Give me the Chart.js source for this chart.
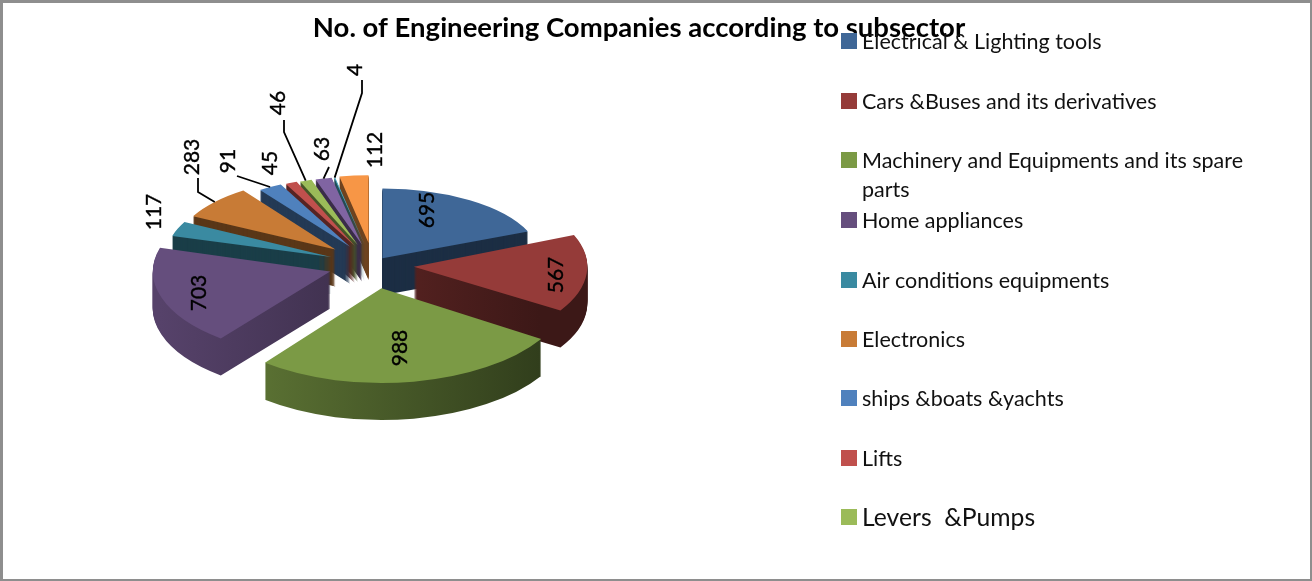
<!DOCTYPE html>
<html>
<head>
<meta charset="utf-8">
<title>No. of Engineering Companies according to subsector</title>
<script src="https://cdn.jsdelivr.net/npm/chart.js@4/dist/chart.umd.min.js"></script>
<style>
body { margin: 0; background: #fff; }
#frame { position: absolute; left: 0; top: 0; width: 1312px; height: 581px; box-sizing: border-box;
         border: solid #8e8e8e; border-width: 3px 2px 2px 3px; pointer-events: none; }
#myPie { position: absolute; left: 0; top: 0; }
</style>
</head>
<body>
<canvas id="myPie" width="1278" height="581"></canvas>
<div id="frame"></div>
<script>
var chartTitle = "No. of Engineering Companies according to subsector";

// the legend in the picture is cut off after nine entries
var subsectors = [
    "Electrical & Lighting tools",
    "Cars &Buses and its derivatives",
    "Machinery and Equipments and its spare parts",
    "Home appliances",
    "Air conditions equipments",
    "Electronics",
    "ships &boats &yachts",
    "Lifts",
    "Levers  &Pumps"
];
var companies = [695, 567, 988, 703, 117, 283, 91, 45, 46, 63, 4, 112];

var sliceColors = ["#3f6797", "#953b39", "#7b9a45", "#654e7d", "#3a8aa1", "#c87b36",
                   "#4f81bd", "#c0504d", "#9bbb59", "#8064a2", "#4bacc6", "#f79646"];

// how far each slice is pulled out of the pie, px before squashing
var explode = [17, 41, 50, 45, 45, 50, 45, 45, 45, 45, 45, 47];

var pieX = 373, pieY = 265, squash = 0.47, depth = 37;
var baseRadius = 172;

// value labels, centre of the rotated text
var labelSpots = [[427, 210], [556, 275], [400, 348], [199, 293], [154, 212], [192, 157],
                  [228, 161], [270, 163], [278, 103], [322, 149], [355, 70], [375, 150]];
// leader lines run from these points to the rim of the slice
var leaderKnees = {
    5: [[198, 178], [198, 192]],
    6: [[237, 176]],
    8: [[284, 120], [284, 132]],
    9: [[329, 167]],
    10: [[362, 80], [362, 93]]
};

var legendRows = [41, 101, 160, 220, 280, 339, 398, 458, 517];

function shade(hex, k) {
    var n = parseInt(hex.slice(1), 16);
    return "rgb(" + Math.round((n >> 16) * k) + "," + Math.round(((n >> 8) & 255) * k) + "," + Math.round((n & 255) * k) + ")";
}

// numbers needed to place one slice with a fake perspective
function sliceGeom(arc, i) {
    var h = (arc.startAngle + arc.endAngle) / 2;
    var far = Math.sin(-h); // 1 at the back of the pie, -1 at the front
    var r = arc.outerRadius * (1 - 0.1 * far);
    return {
        h: h, far: far, r: r,
        dx: Math.cos(h) * explode[i],
        dy: Math.sin(h) * explode[i],
        f: r / arc.outerRadius,
        yk: 1 - 0.07 * far
    };
}

function placeSlice(ctx, arc, g, down) {
    ctx.translate(pieX, pieY + down);
    ctx.scale(1, squash);
    ctx.translate(g.dx, g.dy);
    ctx.scale(g.f, g.f * g.yk);
    ctx.translate(-arc.x, -arc.y);
}

function rimPoint(arc, i) {
    var g = sliceGeom(arc, i);
    var ax = pieX + g.dx, ay = pieY + g.dy * squash;
    return [ax + Math.cos(g.h) * g.r, ay + Math.sin(g.h) * g.r * squash * g.yk];
}

var fakePie3d = {
    id: "fakePie3d",
    beforeDatasetDraw: function (chart, args) {
        var ctx = chart.ctx;
        var arcs = args.meta.data;
        var order = arcs.map(function (a, i) { return i; });
        order.sort(function (p, q) { return sliceGeom(arcs[q], q).far - sliceGeom(arcs[p], p).far; });

        order.forEach(function (i) {
            var arc = arcs[i], g = sliceGeom(arc, i), opts = arc.options;
            // sides first, stacked copies of the slice
            for (var k = depth; k >= 1; k--) {
                ctx.save();
                placeSlice(ctx, arc, g, k);
                var fill = shade(sliceColors[i], 0.45);
                if (g.far < 0.1) { // near half, rim gets lighter to the left
                    var x0 = (160 - pieX - g.dx) / g.f + arc.x;
                    var x1 = (540 - pieX - g.dx) / g.f + arc.x;
                    fill = ctx.createLinearGradient(x0, 0, x1, 0);
                    fill.addColorStop(0, shade(sliceColors[i], 0.85));
                    fill.addColorStop(1, shade(sliceColors[i], 0.4));
                }
                arc.options = Object.assign({}, opts, { backgroundColor: fill });
                arc.draw(ctx);
                ctx.restore();
            }
            arc.options = opts;
            ctx.save();
            placeSlice(ctx, arc, g, 0);
            arc.draw(ctx);
            ctx.restore();
        });
        return false;
    },
    afterDatasetsDraw: function (chart) {
        var ctx = chart.ctx;
        var arcs = chart.getDatasetMeta(0).data;

        // leader lines
        ctx.save();
        ctx.strokeStyle = "#000";
        ctx.lineWidth = 1.8;
        Object.keys(leaderKnees).forEach(function (key) {
            var pts = leaderKnees[key].concat([rimPoint(arcs[key], +key)]);
            ctx.beginPath();
            pts.forEach(function (p, n) { n ? ctx.lineTo(p[0], p[1]) : ctx.moveTo(p[0], p[1]); });
            ctx.stroke();
        });
        ctx.restore();

        // value labels, turned on their side
        ctx.save();
        ctx.fillStyle = "#000";
        ctx.strokeStyle = "#000";
        ctx.lineWidth = 0.4;
        ctx.font = "21px Lato";
        ctx.textAlign = "center";
        ctx.textBaseline = "middle";
        companies.forEach(function (v, i) {
            ctx.save();
            ctx.translate(labelSpots[i][0], labelSpots[i][1]);
            ctx.rotate(-Math.PI / 2);
            ctx.fillText(String(v), 0, 0);
            ctx.strokeText(String(v), 0, 0);
            ctx.restore();
        });
        ctx.restore();

        // legend
        ctx.save();
        ctx.textBaseline = "middle";
        subsectors.forEach(function (name, i) {
            var y = legendRows[i];
            ctx.fillStyle = sliceColors[i];
            ctx.fillRect(841, y - 8, 16, 16);
            ctx.fillStyle = "#111";
            ctx.font = (i == 8 ? "24.7px" : "21.5px") + " Lato";
            if (i == 2) {
                ctx.fillText("Machinery and Equipments and its spare", 862, y + 1);
                ctx.fillText("parts", 862, y + 30);
            } else {
                ctx.fillText(name, 862, y + 1);
            }
        });
        ctx.restore();
    }
};

var ctx = document.getElementById("myPie").getContext("2d");
var myPie = new Chart(ctx, {
    type: "pie",
    data: {
        labels: subsectors,
        datasets: [{
            data: companies,
            backgroundColor: sliceColors,
            borderWidth: 0,
            radius: baseRadius,
            clip: false
        }]
    },
    options: {
        responsive: false,
        animation: false,
        events: [],
        plugins: {
            legend: { display: false },
            tooltip: { enabled: false },
            title: {
                display: true,
                text: chartTitle,
                color: "#000",
                font: { family: "Lato", size: 27.5, weight: "bold" },
                padding: { top: 12, bottom: 0 }
            }
        }
    },
    plugins: [fakePie3d]
});
</script>
</body>
</html>
